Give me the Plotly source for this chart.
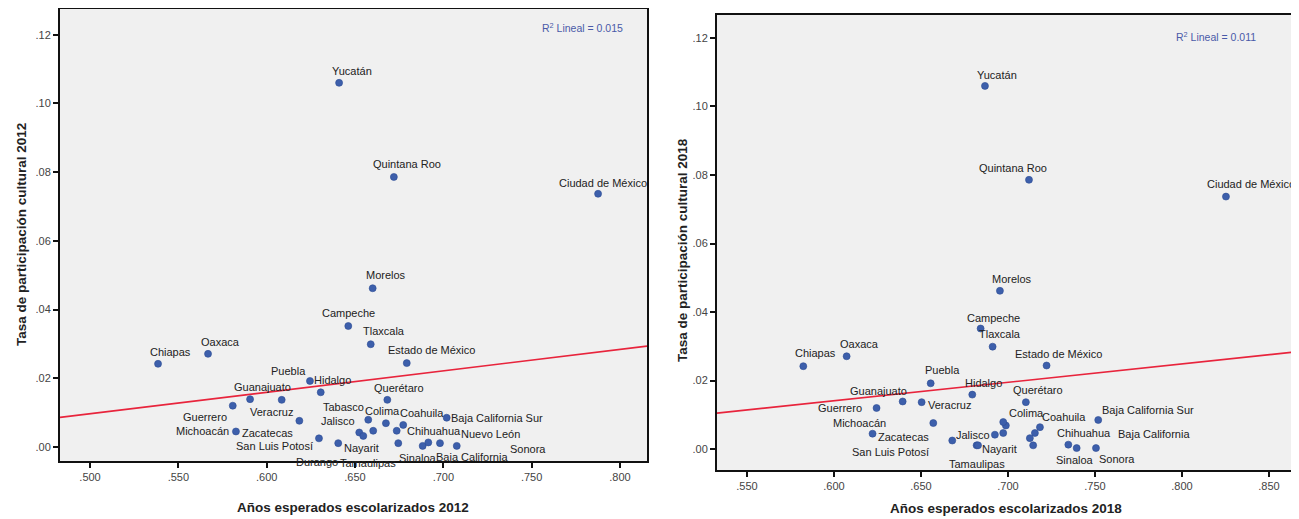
import plotly.graph_objects as go

# ---------------- data ----------------
estados = ["Yucatán", "Quintana Roo", "Ciudad de México", "Morelos", "Campeche", "Tlaxcala",
           "Estado de México", "Chiapas", "Oaxaca", "Puebla", "Hidalgo", "Guanajuato",
           "Veracruz", "Guerrero", "Querétaro", "Zacatecas", "Michoacán", "San Luis Potosí",
           "Nayarit", "Tamaulipas", "Jalisco", "Colima", "Tabasco", "Coahuila", "Chihuahua",
           "Aguascalientes", "Durango", "Sonora", "Sinaloa", "Baja California", "Nuevo León",
           "Baja California Sur"]

tasa_participacion = [0.1060, 0.0786, 0.0737, 0.0462, 0.0352, 0.0299,
                      0.0244, 0.0242, 0.0271, 0.0192, 0.0159, 0.0139,
                      0.0137, 0.0120, 0.0137, 0.0076, 0.0045, 0.0025,
                      0.0011, 0.0011, 0.0042, 0.0069, 0.0079, 0.0064, 0.0047,
                      0.0047, 0.0032, 0.0003, 0.0003, 0.0013, 0.0011,
                      0.0085]

anios_2012 = [0.6410, 0.6720, 0.7876, 0.6600, 0.6462, 0.6589,
              0.6793, 0.5385, 0.5668, 0.6245, 0.6306, 0.5906,
              0.6085, 0.5808, 0.6683, 0.6185, 0.5826, 0.6296,
              0.6405, 0.6745, 0.6524, 0.6675, 0.6575, 0.6773, 0.6736,
              0.6603, 0.6547, 0.7076, 0.6883, 0.6915, 0.6981,
              0.7019]

anios_2018 = [0.6868, 0.7121, 0.8253, 0.6954, 0.6843, 0.6912,
              0.7222, 0.5824, 0.6073, 0.6556, 0.6795, 0.6395,
              0.6504, 0.6245, 0.7103, 0.6571, 0.6222, 0.6680,
              0.6820, 0.6828, 0.6925, 0.6988, 0.6973, 0.7184, 0.7155,
              0.6973, 0.7126, 0.7506, 0.7395, 0.7347, 0.7145,
              0.7519]

# fitted line: intercept + slope * x
fit_2012 = {"intercept": -0.0216, "slope": 0.0625, "r2": "0.015"}
fit_2018 = {"intercept": -0.0181, "slope": 0.0537, "r2": "0.011"}

x_ticks_2012 = [0.50, 0.55, 0.60, 0.65, 0.70, 0.75, 0.80]
x_ticks_2018 = [0.55, 0.60, 0.65, 0.70, 0.75, 0.80, 0.85]
y_ticks = [0.00, 0.02, 0.04, 0.06, 0.08, 0.10, 0.12]

# ---------------- styling (label offsets in px: dx right, dy down) ----------------
off_2012 = {
    "Yucatán": (13, -12), "Quintana Roo": (13, -13), "Ciudad de México": (5, -11),
    "Morelos": (13, -13), "Campeche": (0, -13), "Tlaxcala": (13, -13),
    "Estado de México": (25, -13), "Chiapas": (12, -12), "Oaxaca": (12, -12),
    "Puebla": (-21, -10), "Hidalgo": (12, -12), "Guanajuato": (12, -12),
    "Veracruz": (-10, 12), "Guerrero": (-28, 11), "Querétaro": (12, -12),
    "Zacatecas": (-32, 12), "Michoacán": (-33, 0), "San Luis Potosí": (-44, 8),
    "Nayarit": (23, 5), "Tamaulipas": (-30, 20), "Jalisco": (-21, -11),
    "Colima": (-3, -12), "Tabasco": (-25, -13), "Coahuila": (19, -12),
    "Chihuahua": (37, 0), "Durango": (-46, 26), "Sonora": (71, 3),
    "Sinaloa": (-5, 12), "Baja California": (44, 15), "Nuevo León": (51, -9),
    "Baja California Sur": (50, 0),
}
off_2018 = {
    "Yucatán": (12, -11), "Quintana Roo": (-16, -12), "Ciudad de México": (25, -13),
    "Morelos": (12, -12), "Campeche": (13, -11), "Tlaxcala": (7, -13),
    "Estado de México": (12, -12), "Chiapas": (12, -13), "Oaxaca": (13, -12),
    "Puebla": (12, -13), "Hidalgo": (11, -12), "Guanajuato": (-24, -10),
    "Veracruz": (28, 3), "Guerrero": (-37, 0), "Querétaro": (12, -12),
    "Zacatecas": (-30, 14), "Michoacán": (-13, -11), "San Luis Potosí": (-62, 11),
    "Nayarit": (23, 4), "Tamaulipas": (-1, 19), "Jalisco": (-22, 0),
    "Colima": (21, -12), "Coahuila": (24, -10), "Chihuahua": (49, 0),
    "Sonora": (21, 11), "Sinaloa": (-2, 12), "Baja California": (86, -11),
    "Baja California Sur": (50, -10),
}

FONT = "Liberation Sans, Arial, sans-serif"
DOT = "#3d5fab"
RED = "#e8243c"
PAGE_OFF = 8  # default page body margin
W, H = 1299 - PAGE_OFF, 519 - PAGE_OFF


def fx(px):
    return (px - PAGE_OFF) / W


def fy(py):
    return 1 - (py - PAGE_OFF) / H


panels = [
    dict(x=anios_2012, fit=fit_2012, xt=x_ticks_2012, off=off_2012, xa="x", ya="y",
         xr=[0.483, 0.8153], yr=[-0.0041, 0.1275],
         dx=[fx(60), fx(647)], dy=[fy(461), fy(9)],
         xtitle="Años esperados escolarizados 2012", ytitle="Tasa de participación cultural 2012",
         xt_pos=(353, 507), yt_pos=(21, 235), r2_pos=(582, 27)),
    dict(x=anios_2018, fit=fit_2018, xt=x_ticks_2018, off=off_2018, xa="x2", ya="y2",
         xr=[0.5328, 0.8644], yr=[-0.0061, 0.1267],
         dx=[fx(717), fx(1294)], dy=[fy(470), fy(15)],
         xtitle="Años esperados escolarizados 2018", ytitle="Tasa de participación cultural 2018",
         xt_pos=(1006, 508), yt_pos=(682, 250), r2_pos=(1216, 36)),
]

fig = go.Figure()
annotations = []
layout = {}

for i, p in enumerate(panels):
    sfx = "" if i == 0 else "2"
    lx = p["xr"]
    ly = [p["fit"]["intercept"] + p["fit"]["slope"] * v for v in lx]
    fig.add_trace(go.Scatter(x=lx, y=ly, mode="lines", line=dict(color=RED, width=1.6),
                             xaxis=p["xa"], yaxis=p["ya"], showlegend=False, hoverinfo="skip"))
    fig.add_trace(go.Scatter(x=p["x"], y=tasa_participacion, mode="markers",
                             marker=dict(color=DOT, size=7, line=dict(width=0.6, color="#2c4c94")),
                             text=estados, xaxis=p["xa"], yaxis=p["ya"], showlegend=False))
    for name, xv, yv in zip(estados, p["x"], tasa_participacion):
        if name not in p["off"]:
            continue
        ox, oy = p["off"][name]
        annotations.append(dict(x=xv, y=yv, xref=p["xa"], yref=p["ya"], text=name,
                                showarrow=False, xshift=ox, yshift=-oy,
                                xanchor="center", yanchor="middle",
                                font=dict(family=FONT, size=11, color="#222")))
    layout["xaxis" + sfx] = dict(
        domain=p["dx"], range=p["xr"], anchor=p["ya"], tickvals=p["xt"],
        ticktext=[("%.3f" % v)[1:] for v in p["xt"]], ticks="outside", ticklen=5, tickwidth=1.5,
        tickcolor="#111", showline=True, linecolor="#111", linewidth=2, mirror=True,
        showgrid=False, zeroline=False, tickfont=dict(family=FONT, size=11, color="#444"))
    layout["yaxis" + sfx] = dict(
        domain=p["dy"], range=p["yr"], anchor=p["xa"], tickvals=y_ticks,
        ticktext=[("%.2f" % v)[1:] for v in y_ticks], ticks="outside", ticklen=5, tickwidth=1.5,
        tickcolor="#111", showline=True, linecolor="#111", linewidth=2, mirror=True,
        showgrid=False, zeroline=False, tickfont=dict(family=FONT, size=11, color="#444"))
    annotations.append(dict(x=fx(p["xt_pos"][0]), y=fy(p["xt_pos"][1]), xref="paper", yref="paper",
                            text="<b>%s</b>" % p["xtitle"], showarrow=False,
                            xanchor="center", yanchor="middle",
                            font=dict(family=FONT, size=13.5, color="#222")))
    annotations.append(dict(x=fx(p["yt_pos"][0]), y=fy(p["yt_pos"][1]), xref="paper", yref="paper",
                            text="<b>%s</b>" % p["ytitle"], showarrow=False, textangle=-90,
                            xanchor="center", yanchor="middle",
                            font=dict(family=FONT, size=13.5, color="#222")))
    annotations.append(dict(x=fx(p["r2_pos"][0]), y=fy(p["r2_pos"][1]), xref="paper", yref="paper",
                            text="R<sup>2</sup> Lineal = %s" % p["fit"]["r2"], showarrow=False,
                            xanchor="center", yanchor="middle",
                            font=dict(family=FONT, size=10.5, color="#4a5aa8")))

shapes = []
for p in panels:
    shapes.append(dict(type="rect", xref="paper", yref="paper", x0=p["dx"][0], x1=p["dx"][1],
                       y0=p["dy"][0], y1=p["dy"][1], fillcolor="#f0f0f0", line=dict(width=0),
                       layer="below"))

fig.update_layout(width=W, height=H, autosize=False, margin=dict(l=0, r=0, t=0, b=0),
                  paper_bgcolor="white", plot_bgcolor="rgba(0,0,0,0)",
                  annotations=annotations, shapes=shapes, showlegend=False, **layout)

fig.write_html("out.html")
